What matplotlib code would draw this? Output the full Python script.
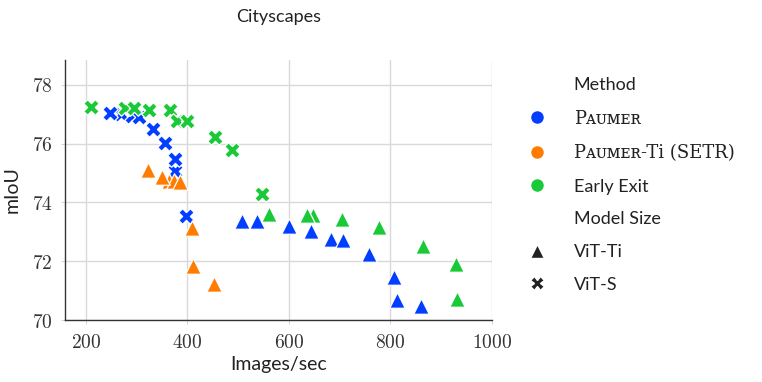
import matplotlib
matplotlib.use("Agg")
import matplotlib.pyplot as plt
import matplotlib.ticker as mticker
from matplotlib.lines import Line2D

plt.rcParams["font.family"] = ["Lato", "DejaVu Sans"]
plt.rcParams["mathtext.fontset"] = "cm"

# ── Data ─────────────────────────────────────────────────────────────────────
# Paumer (ViT-Ti / ViT-S)
paumer_ti_x = [507, 538, 601, 644, 683, 706, 758, 807, 813, 860]
paumer_ti_y = [73.36, 73.36, 73.19, 73.02, 72.74, 72.71, 72.23, 71.47, 70.68, 70.47]
paumer_s_x = [270, 290, 305, 376, 248, 333, 355, 376, 398]
paumer_s_y = [77.00, 76.95, 76.90, 75.06, 77.04, 76.49, 76.02, 75.49, 73.55]

# Paumer-Ti (SETR), ViT-Ti only
setr_ti_x = [363, 373, 385, 323, 350, 409, 411, 453]
setr_ti_y = [74.74, 74.72, 74.69, 75.11, 74.87, 73.13, 71.85, 71.24]

# Early Exit (ViT-Ti / ViT-S)
early_ti_x = [560, 648, 635, 704, 778, 865, 930, 931]
early_ti_y = [73.62, 73.59, 73.59, 73.44, 73.17, 72.51, 71.89, 70.70]
early_s_x = [210, 277, 294, 325, 366, 379, 399, 455, 488, 547]
early_s_y = [77.24, 77.20, 77.21, 77.15, 77.15, 76.76, 76.79, 76.22, 75.79, 74.30]

BLUE, ORANGE, GREEN = "#023eff", "#ff7c00", "#1ac938"
method_labels = ["Pᴀᴜᴍᴇʀ", "Pᴀᴜᴍᴇʀ-Ti (SETR)", "Early Exit"]
size_labels = ["ViT-Ti", "ViT-S"]

fig = plt.figure(figsize=(7.62, 3.82), dpi=100)
ax = fig.add_axes([0.0853, 0.1623, 0.5604, 0.6807])

kw = dict(s=125, edgecolors="white", linewidths=0.9, zorder=3)
ax.scatter(paumer_ti_x, paumer_ti_y, marker="^", color=BLUE, **kw)
ax.scatter(paumer_s_x, paumer_s_y, marker="X", color=BLUE, **kw)
ax.scatter(setr_ti_x, setr_ti_y, marker="^", color=ORANGE, **kw)
ax.scatter(early_ti_x, early_ti_y, marker="^", color=GREEN, **kw)
ax.scatter(early_s_x, early_s_y, marker="X", color=GREEN, **kw)

ax.set_xlim(159, 1000)
ax.set_ylim(70, 78.85)
ax.set_xticks([200, 400, 600, 800, 1000])
ax.set_yticks([70, 72, 74, 76, 78])
ax.xaxis.set_major_formatter(mticker.FuncFormatter(lambda v, _: f"${v:.0f}$"))
ax.yaxis.set_major_formatter(mticker.FuncFormatter(lambda v, _: f"${v:.0f}$"))
ax.tick_params(labelsize=14, colors="#333333", length=3, width=0.6,
               color="#cccccc", pad=6)
ax.grid(True, color="#d9d9d9", linewidth=1.0)
ax.set_axisbelow(True)
for side in ("top", "right"):
    ax.spines[side].set_visible(False)
for side in ("left", "bottom"):
    ax.spines[side].set_color("#333333")
    ax.spines[side].set_linewidth(1.0)

ax.set_xlabel("Images/sec", fontsize=14, color="#222222", labelpad=4)
ax.set_ylabel("mIoU", fontsize=14, color="#222222", labelpad=8)
ax.set_title("Cityscapes", fontsize=13, color="#222222", pad=27)

# seaborn-style legend: section headers as blank entries
blank = Line2D([], [], linestyle="none", marker="none")
handles = [blank]
for c in (BLUE, ORANGE, GREEN):
    handles.append(Line2D([], [], linestyle="none", marker="o", markersize=10,
                          markerfacecolor=c, markeredgecolor="white"))
handles.append(blank)
handles.append(Line2D([], [], linestyle="none", marker="^", markersize=10,
                      markerfacecolor="#222222", markeredgecolor="white"))
handles.append(Line2D([], [], linestyle="none", marker="X", markersize=10,
                      markerfacecolor="#222222", markeredgecolor="white"))
labels = ["Method"] + method_labels + ["Model Size"] + size_labels

leg = ax.legend(handles, labels, loc="center left", bbox_to_anchor=(1.035, 0.52),
                frameon=False, fontsize=13, labelspacing=0.92,
                handletextpad=1.3, handlelength=1.5)
for t in leg.get_texts():
    t.set_color("#222222")
    if t.get_text().startswith("P"):
        t.set_family(["DejaVu Serif"])

fig.savefig("out.png", dpi=100)
